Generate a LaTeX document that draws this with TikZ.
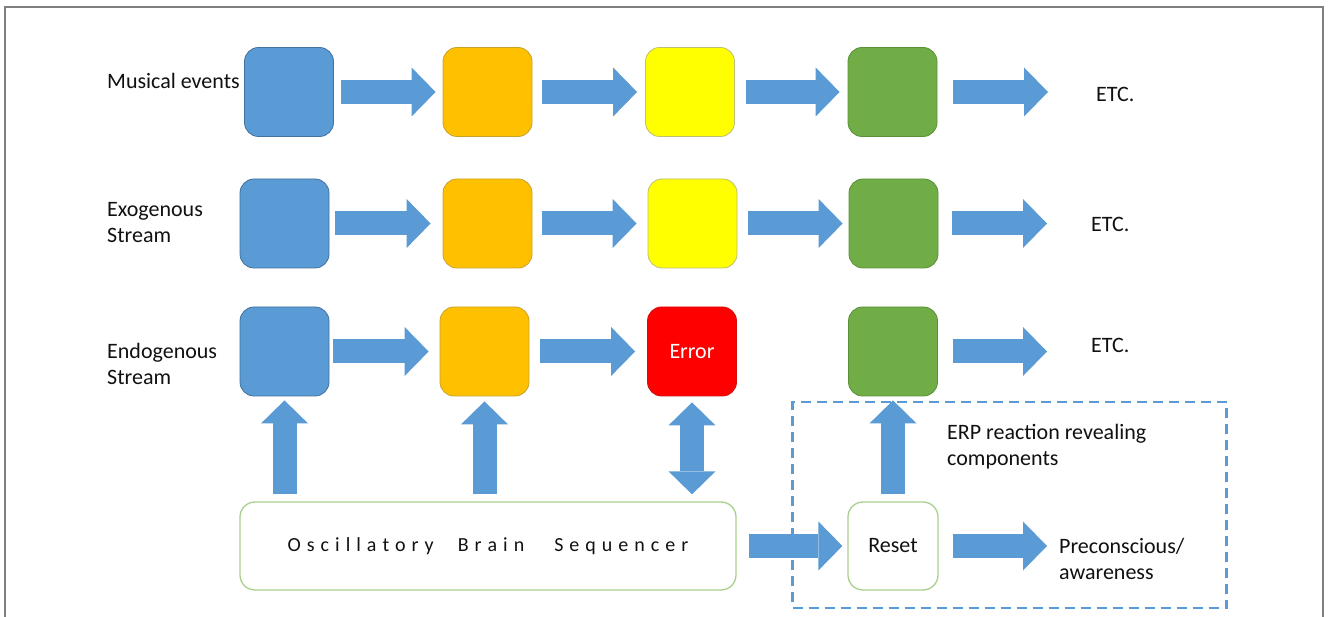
\documentclass[tikz,border=0pt]{standalone}
\usepackage{fontspec}
\setmainfont{Carlito}
\usetikzlibrary{arrows.meta,calc}
\definecolor{cblue}{HTML}{5B9BD5}
\definecolor{cbluedk}{HTML}{41719C}
\definecolor{corange}{HTML}{FFC000}
\definecolor{corangedk}{HTML}{C9A227}
\definecolor{cyellow}{HTML}{FFFF00}
\definecolor{cyellowdk}{HTML}{BFBF70}
\definecolor{cgreen}{HTML}{70AD47}
\definecolor{cgreendk}{HTML}{5A8F38}
\definecolor{cred}{HTML}{FF0000}
\definecolor{creddk}{HTML}{D01010}
\definecolor{clgreen}{HTML}{A9D18E}
\definecolor{cframe}{HTML}{7F7F7F}
\definecolor{ctext}{HTML}{111111}
\def\lsaux#1{\ifx#1\relax\else#1\kern6pt\expandafter\lsaux\fi}
\newcommand\spacedword[1]{\lsaux#1\relax\kern-6pt}
\tikzset{
  box/.style={rounded corners=14pt, minimum width=89pt, minimum height=89pt, inner sep=0pt, line width=0.8pt},
  bluebox/.style={box, fill=cblue, draw=cbluedk},
  orangebox/.style={box, fill=corange, draw=corangedk},
  yellowbox/.style={box, fill=cyellow, draw=cyellowdk},
  greenbox/.style={box, fill=cgreen, draw=cgreendk},
  redbox/.style={box, fill=cred, draw=creddk, text=white, font=\fontsize{22}{26}\selectfont},
  whitebox/.style={rounded corners=15pt, minimum height=88pt, inner sep=0pt, line width=1.3pt, draw=clgreen, fill=white, text=ctext},
  fat/.style={draw=cblue, line width=24pt, -{Triangle[length=24pt,width=49pt,line width=0pt]}},
  fatv/.style={draw=cblue, line width=24pt, -{Triangle[length=23pt,width=47pt,line width=0pt]}},
  fatboth/.style={draw=cblue, line width=24pt, {Triangle[length=23pt,width=47pt,line width=0pt]}-{Triangle[length=23pt,width=47pt,line width=0pt]}},
  lbl/.style={font=\fontsize{22}{26}\selectfont, text=ctext, inner sep=0pt, anchor=base west, align=left},
  grpbox/.style={draw=cblue, dash pattern=on 10pt off 6pt, line width=2.5pt, minimum width=434pt, minimum height=206pt, inner sep=0pt}
}
\begin{document}
\begin{tikzpicture}[x=1pt,y=-1pt]
\useasboundingbox (0,0) rectangle (1328,617);
\fill[white] (0,0) rectangle (1328,617);
\draw[cframe, line width=1.5pt] (5,620) -- (5,7) -- (1323,7) -- (1323,620);

% group box
\node[grpbox] (grp) at (1009.5,505) {};

% row 1
\node[bluebox] (m1) at (289,92) {};
\node[orangebox] (m2) at (487.5,92) {};
\node[yellowbox] (m3) at (690,92) {};
\node[greenbox] (m4) at (892.5,92) {};
\coordinate (m5) at (1048,92);
\draw[fat, shorten <=7pt, shorten >=7pt] (m1.east) -- (m2.west);
\draw[fat, shorten <=10pt, shorten >=8pt] (m2.east) -- (m3.west);
\draw[fat, shorten <=11pt, shorten >=8pt] (m3.east) -- (m4.west);
\draw[fat, shorten <=16pt] (m4.east) -- (m5);

% row 2
\node[bluebox] (x1) at (284.5,223.5) {};
\node[orangebox] (x2) at (487.5,223.5) {};
\node[yellowbox] (x3) at (692.5,223.5) {};
\node[greenbox] (x4) at (893.5,223.5) {};
\coordinate (x5) at (1047,223.5);
\draw[fat, shorten <=6pt, shorten >=12pt] (x1.east) -- (x2.west);
\draw[fat, shorten <=10pt, shorten >=11pt] (x2.east) -- (x3.west);
\draw[fat, shorten <=11pt, shorten >=6pt] (x3.east) -- (x4.west);
\draw[fat, shorten <=14pt] (x4.east) -- (x5);

% row 3
\node[bluebox] (n1) at (284.5,351.5) {};
\node[orangebox] (n2) at (484.5,351.5) {};
\node[redbox] (n3) at (692,351.5) {Error};
\node[greenbox] (n4) at (893,351.5) {};
\coordinate (n5) at (1047,351.5);
\draw[fat, shorten <=4pt, shorten >=11pt] (n1.east) -- (n2.west);
\draw[fat, shorten <=11pt, shorten >=12pt] (n2.east) -- (n3.west);
\draw[fat, shorten <=15pt] (n4.east) -- (n5);

% bottom row
\node[whitebox, minimum width=496pt, font=\fontsize{20}{24}\selectfont] (osc) at (488,546)
  {\spacedword{Oscillatory}\hspace{24pt}\spacedword{Brain}\hspace{30pt}\spacedword{Sequencer}};
\node[whitebox, minimum width=90pt, font=\fontsize{22}{26}\selectfont] (reset) at (893,546) {Reset};
\coordinate (pc) at (1047,546);

\draw[fatv, shorten <=7pt, shorten >=4pt] (osc.north -| n1) -- (n1.south);
\draw[fatv, shorten <=7pt, shorten >=5pt] (osc.north -| n2) -- (n2.south);
\draw[fatboth, shorten <=6pt, shorten >=7pt] (n3.south) -- (n3.south |- osc.north);
\draw[fatv, shorten <=7pt, shorten >=4pt] (reset.north) -- (n4.south);
\draw[fat, shorten <=12pt, shorten >=5pt] (osc.east) -- (reset.west);
\draw[fat, shorten <=14pt] (reset.east) -- (pc);

% labels (base anchor = baseline of last line)
\node[lbl] (lmus) at (107,89) {Musical events};
\node[lbl] (lexo) at (107,243) {Exogenous\\Stream};
\node[lbl] (lendo) at (107,385) {Endogenous\\Stream};
\node[lbl] (etc1) at (1096,102) {ETC.};
\node[lbl] (etc2) at (1091,232) {ETC.};
\node[lbl] (etc3) at (1091,353) {ETC.};
\node[lbl] (erp) at (947,465) {ERP reaction revealing\\components};
\node[lbl] (pre) at (1059,579) {Preconscious/\\awareness};
\end{tikzpicture}
\end{document}
